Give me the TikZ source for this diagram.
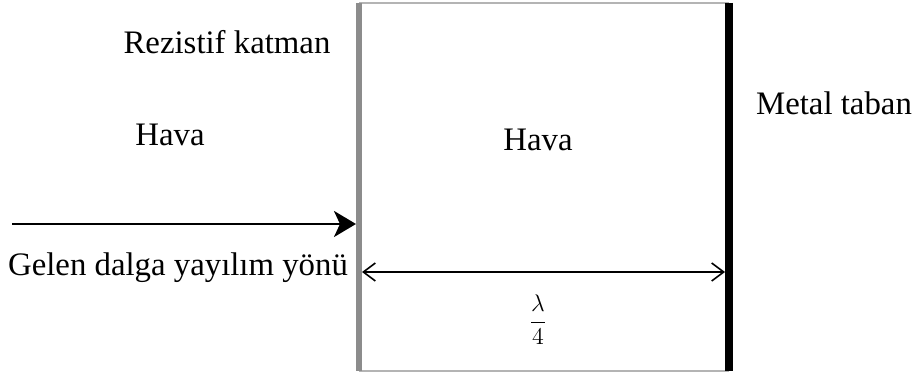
\documentclass[tikz,border=0pt]{standalone}
\usepackage{fontspec}
\setmainfont{Liberation Serif}
\usetikzlibrary{arrows.meta}
\definecolor{LayerGray}{HTML}{8C8C8C}
\definecolor{EdgeGray}{HTML}{B4B4B4}

\begin{document}
\begin{tikzpicture}[
      x=0.5pt,y=-0.5pt,
      label/.style={font=\fontsize{16.4}{19}\selectfont,inner sep=0pt},
      layer/.style={color=LayerGray,line width=3pt},
      metal/.style={color=black,line width=4pt},
      wall/.style={color=EdgeGray,line width=0.8pt},
      incident/.style={-{Stealth[length=11pt,width=13pt,inset=3pt]},line width=1.4pt},
      span/.style={{Straight Barb[length=6pt,width=9pt]}-{Straight Barb[length=6pt,width=9pt]},line width=0.8pt}
    ]
      \useasboundingbox (0,0) rectangle (914,378);

      % corners of the air gap
      \coordinate (lt) at (359,3);
      \coordinate (lb) at (359,371);
      \coordinate (rt) at (729,3);
      \coordinate (rb) at (729,371);

      \draw[wall] (lt) -- (rt);
      \draw[wall] (lb) -- (rb);
      \draw[layer] (lt) -- (lb);
      \draw[metal] (rt) -- (rb);

      % incident wave
      \coordinate (src) at (12,224);
      \coordinate (hit) at (356,224);
      \draw[incident] (src) -- (hit);

      % quarter wavelength spacing
      \coordinate (sl) at (362,272);
      \coordinate (sr) at (725,272);
      \draw[span] (sl) -- (sr);
      \node (quarter) at (538,320)
        {\fontsize{13}{15}\selectfont\(\displaystyle\frac{\lambda}{4}\)};

      \node[label] (resistive) at (227,42) {Rezistif katman};
      \node[label] (airout) at (170,135) {Hava};
      \node[label] (airin) at (538,140) {Hava};
      \node[label] (metalbase) at (834,103) {Metal taban};
      \node[label] (direction) at (178,268) {Gelen dalga yayılım yönü};
    \end{tikzpicture}
\end{document}
